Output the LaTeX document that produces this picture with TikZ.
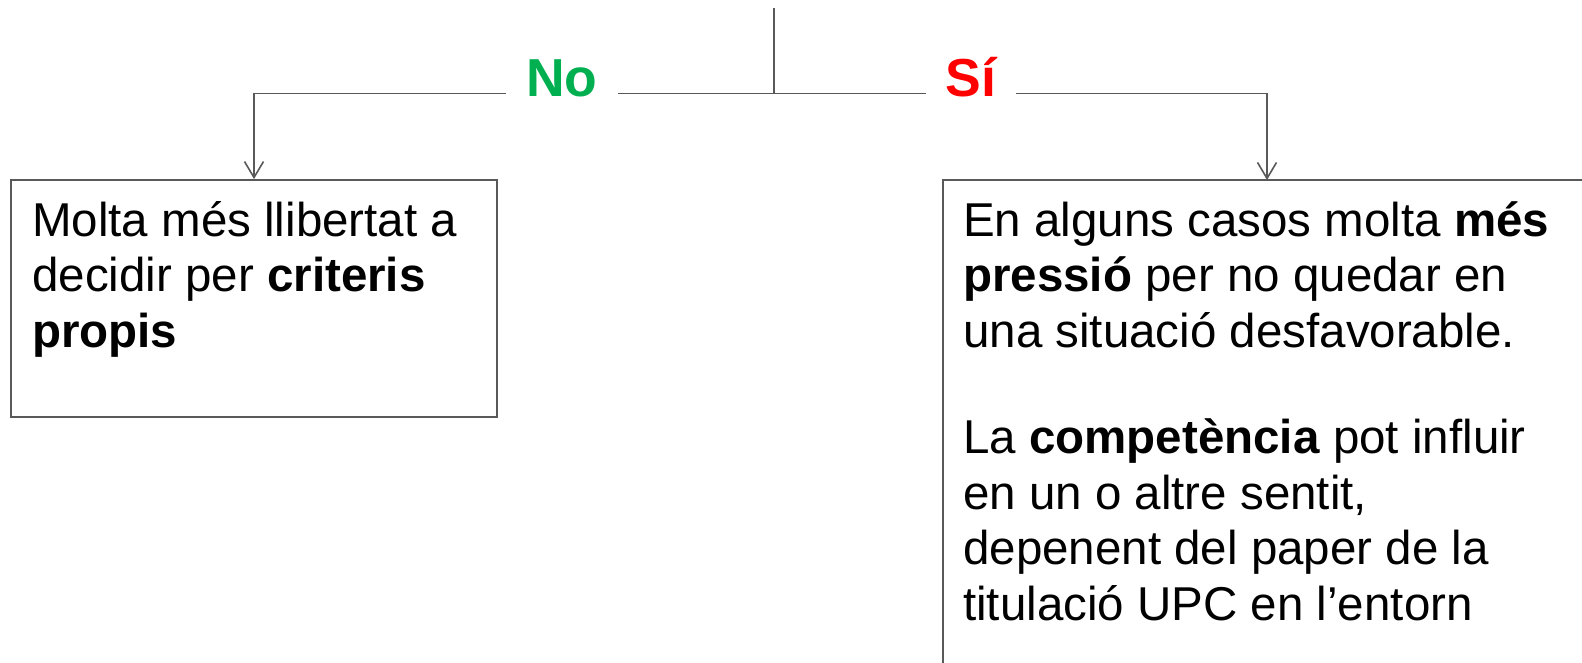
\documentclass[tikz,border=0pt]{standalone}
\usepackage{fontspec}
\setmainfont{Liberation Sans}
\usetikzlibrary{arrows.meta}
\definecolor{linegray}{HTML}{595959}
\definecolor{nogreen}{HTML}{00B050}
\definecolor{sired}{HTML}{FF0000}
\begin{document}
\begin{tikzpicture}[x=1pt,y=-1pt,
  conn/.style={draw=linegray, line width=1.8pt},
  arr/.style={conn, -{Straight Barb[length=16pt,width=19pt,line width=1.6pt]}},
  box/.style={draw=linegray, line width=1.8pt, rectangle, inner sep=0pt},
  body/.style={font=\fontsize{47.5}{55.5}\selectfont, align=left, inner sep=0pt, anchor=base west},
  lab/.style={font=\fontsize{53.5}{58}\selectfont\bfseries, inner ysep=0pt, inner xsep=20pt, anchor=base}]
\useasboundingbox (0,0) rectangle (1582,662);
\clip (0,0) rectangle (1582,662);
\node[box, minimum width=486pt, minimum height=237pt] (leftbox) at (254,298.5) {};
\node[box, minimum width=657pt, minimum height=519pt] (rightbox) at (1271.5,439.5) {};
\node[body] (lefttext) at (32,347) {Molta més llibertat a\\decidir per \textbf{criteris}\\\textbf{propis}};
\node[body] (righttext) at (963,620) {En alguns casos molta \textbf{més}\\\textbf{pressió} per no quedar en\\una situació desfavorable.\\[51pt]La \textbf{competència} pot influir\\en un o altre sentit,\\depenent del paper de la\\titulació UPC en l’entorn};
\coordinate (top) at (774,8);
\coordinate (j) at (774,93.5);
\coordinate (rtarget) at (1267,180);
\node[lab, text=nogreen] (no) at (562,96) {No};
\node[lab, text=sired] (si) at (971,96) {Sí};
\draw[conn] (top) -- (j);
\draw[conn] (j) -- (j -| no.east);
\draw[conn] (j) -- (j -| si.west);
\draw[arr] (no.west |- j) -| (leftbox.north);
\draw[arr] (si.east |- j) -| (rtarget);
\end{tikzpicture}
\end{document}
